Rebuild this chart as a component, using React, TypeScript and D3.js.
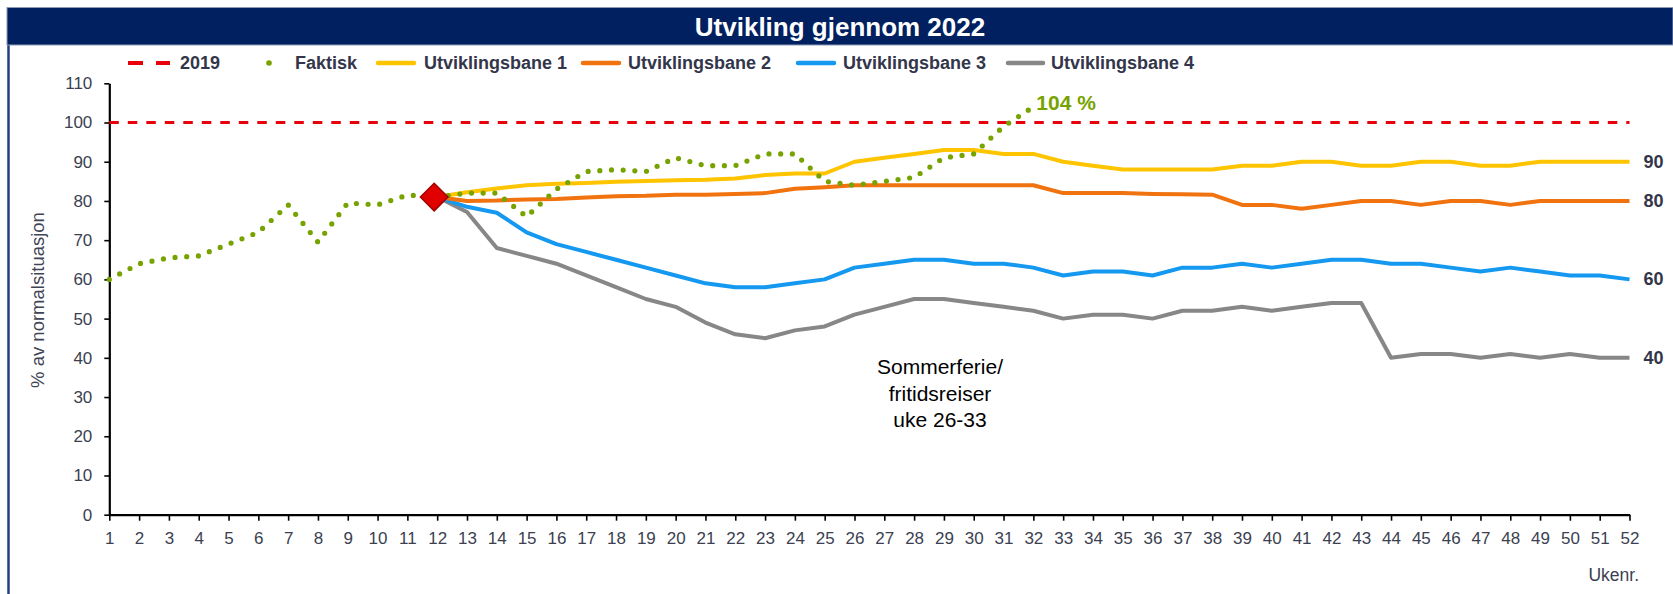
import React, { useEffect, useRef } from 'react';
import * as d3 from 'd3';

// Ukenummer 1-52
const weeks = d3.range(1, 53);
const yTicks = [0, 10, 20, 30, 40, 50, 60, 70, 80, 90, 100, 110];

// 2019 = 100 % (referanse)
const level2019 = 100;

// Faktisk, uke 1-32
const faktisk = [
  60, 64, 65.5, 66, 69, 72, 79, 69.5, 79.5, 79, 81.5, 81, 82, 82, 76, 83,
  87.5, 88, 87.5, 91, 89, 89, 92, 92, 85, 84, 85, 86, 91, 92, 99, 104,
];

// Utviklingsbaner, uke 12-52
const scenarioStart = 12;
const bane1 = [
  81, 82.2, 83.2, 84, 84.4, 84.6, 84.9, 85.1, 85.3, 85.4, 85.7, 86.6, 87, 87,
  90, 91, 92, 93, 93, 92, 92, 90, 89, 88, 88, 88, 88, 89, 89, 90, 90, 89, 89,
  90, 90, 89, 89, 90, 90, 90, 90,
];
const bane2 = [
  81, 80, 80.1, 80.4, 80.5, 80.9, 81.2, 81.3, 81.6, 81.6, 81.8, 82, 83.1, 83.5,
  84, 84, 84, 84, 84, 84, 84, 82, 82, 82, 81.8, 81.7, 81.6, 79, 79, 78, 79, 80,
  80, 79, 80, 80, 79, 80, 80, 80, 80,
];
const bane3 = [
  81, 78.5, 77, 72, 69, 67, 65, 63, 61, 59, 58, 58, 59, 60, 63, 64, 65, 65, 64,
  64, 63, 61, 62, 62, 61, 63, 63, 64, 63, 64, 65, 65, 64, 64, 63, 62, 63, 62,
  61, 61, 60,
];
const bane4 = [
  81, 77.2, 68, 66, 64, 61, 58, 55, 53, 49, 46, 45, 47, 48, 51, 53, 55, 55, 54,
  53, 52, 50, 51, 51, 50, 52, 52, 53, 52, 53, 54, 54, 40, 41, 41, 40, 41, 40,
  41, 40, 40,
];

const seriesNames = ['Utviklingsbane 1', 'Utviklingsbane 2', 'Utviklingsbane 3', 'Utviklingsbane 4'];
const seriesColors = ['#ffc400', '#f0730f', '#1598f0', '#878787'];
const endLabels = ['90', '80', '60', '40'];

const FONT = '"Liberation Sans", Arial, sans-serif';
const TEXT = '#3b3f51';

const W = 1673;
const H = 594;

export default function App() {
  const xAxisRef = useRef<SVGGElement>(null);
  const yAxisRef = useRef<SVGGElement>(null);

  const x = d3.scaleLinear().domain([1, 52]).range([109.3, 1629.5]);
  const y = d3.scaleLinear().domain([0, 110]).range([514.7, 83.3]);

  const scenarios = [bane4, bane3, bane2, bane1].map((vals, k) => ({
    vals,
    color: seriesColors[3 - k],
  }));

  const line = d3
    .line<[number, number]>()
    .x((d) => x(d[0]))
    .y((d) => y(d[1]));

  useEffect(() => {
    const gx = d3.select(xAxisRef.current);
    gx.selectAll('*').remove();
    gx.call(
      d3.axisBottom(x).tickValues(weeks).tickFormat(d3.format('d')).tickSize(6).tickSizeOuter(0).tickPadding(11)
    );
    gx.select('.domain').attr('stroke', '#000').attr('stroke-width', 2.2);
    gx.selectAll('.tick line').attr('stroke', '#000').attr('stroke-width', 1.6);
    gx.selectAll('.tick text')
      .attr('font-size', 17)
      .attr('font-family', FONT)
      .attr('fill', TEXT);

    const gy = d3.select(yAxisRef.current);
    gy.selectAll('*').remove();
    gy.call(d3.axisLeft(y).tickValues(yTicks).tickSize(5).tickSizeOuter(0).tickPadding(12));
    gy.select('.domain').attr('stroke', '#000').attr('stroke-width', 2.2);
    gy.selectAll('.tick line').attr('stroke', '#000').attr('stroke-width', 1.6);
    gy.selectAll('.tick text')
      .attr('font-size', 17)
      .attr('font-family', FONT)
      .attr('fill', TEXT);
  }, []);

  // legend layout
  const legendY = 63;
  const legendItems = [
    { label: '2019', kind: 'dash', color: '#e8000b', x0: 128, x1: 170, tx: 180 },
    { label: 'Faktisk', kind: 'dot', color: '#77a300', x0: 269, x1: 269, tx: 295 },
    ...seriesNames.map((name, i) => ({
      label: name,
      kind: 'line',
      color: seriesColors[i],
      x0: [378, 583, 798, 1008][i],
      x1: [414, 619, 834, 1043][i],
      tx: [424, 628, 843, 1051][i],
    })),
  ];

  const diamond = d3.symbol().type(d3.symbolSquare).size(380)();

  return (
    <svg
      width={W}
      height={H}
      style={{ position: 'absolute', left: 0, top: 0, background: '#fff' }}
      fontFamily={FONT}
    >
      <rect x={0} y={0} width={W} height={H} fill="#fff" />
      {/* frame + title bar */}
      <line x1={8.5} x2={8.5} y1={44} y2={H} stroke="#23417f" strokeWidth={2.5} />
      <rect x={7} y={7.5} width={W - 7} height={37.5} fill="#002060" stroke="#8e9ab8" strokeWidth={1} />
      <text x={840} y={26.5} fill="#fff" fontSize={26} fontWeight="bold" textAnchor="middle" dominantBaseline="central">
        Utvikling gjennom 2022
      </text>

      {/* legend */}
      {legendItems.map((it) => (
        <g key={it.label}>
          {it.kind === 'dash' && (
            <line x1={it.x0} x2={it.x1} y1={legendY} y2={legendY} stroke={it.color} strokeWidth={4} strokeDasharray="15 13" />
          )}
          {it.kind === 'dot' && <circle cx={it.x0} cy={legendY} r={2.8} fill={it.color} />}
          {it.kind === 'line' && (
            <line x1={it.x0} x2={it.x1} y1={legendY} y2={legendY} stroke={it.color} strokeWidth={4.5} strokeLinecap="round" />
          )}
          <text x={it.tx} y={legendY} fontSize={18} fontWeight="bold" fill="#33364a" dominantBaseline="central">
            {it.label}
          </text>
        </g>
      ))}

      {/* axes */}
      <g ref={yAxisRef} transform={`translate(${x(1)},0)`} />
      <g ref={xAxisRef} transform={`translate(0,${y(0)})`} />

      <text
        transform={`translate(37,300) rotate(-90)`}
        fontSize={18.5}
        fill="#404455"
        textAnchor="middle"
        dominantBaseline="central"
      >
        % av normalsituasjon
      </text>
      <text x={1639} y={575} fontSize={17.5} fill={TEXT} textAnchor="end" dominantBaseline="central">
        Ukenr.
      </text>

      {/* 2019 reference */}
      <path
        d={line(weeks.map((w) => [w, level2019]))!}
        fill="none"
        stroke="#e8000b"
        strokeWidth={3}
        strokeDasharray="9.5 9"
      />

      {/* scenarios */}
      {scenarios.map((s, k) => (
        <path
          key={k}
          d={line(s.vals.map((v, i) => [scenarioStart + i, v]))!}
          fill="none"
          stroke={s.color}
          strokeWidth={4}
          strokeLinejoin="round"
        />
      ))}

      {/* faktisk */}
      <path
        d={line(faktisk.map((v, i) => [i + 1, v]))!}
        fill="none"
        stroke="#77a300"
        strokeWidth={5.2}
        strokeLinecap="round"
        strokeDasharray="0 11.7"
      />

      {/* start point */}
      <path
        d={diamond!}
        transform={`translate(${x(scenarioStart) - 3},${y(faktisk[scenarioStart - 1])}) rotate(45)`}
        fill="#e00000"
        stroke="#a00000"
        strokeWidth={1.5}
      />

      {/* labels */}
      <text
        x={x(faktisk.length) + 3}
        y={y(faktisk[faktisk.length - 1]) - 4}
        fontSize={21}
        fontWeight="bold"
        fill="#77a300"
        dominantBaseline="central"
      >
        104 %
      </text>
      {[bane1, bane2, bane3, bane4].map((vals, i) => (
        <text
          key={i}
          x={x(52) + 14}
          y={y(vals[vals.length - 1])}
          fontSize={18}
          fontWeight="bold"
          fill="#33364a"
          dominantBaseline="central"
        >
          {endLabels[i]}
        </text>
      ))}

      <text x={940} fontSize={21} fill="#000" textAnchor="middle">
        <tspan x={940} y={374}>Sommerferie/</tspan>
        <tspan x={940} y={400.5}>fritidsreiser</tspan>
        <tspan x={940} y={427}>uke 26-33</tspan>
      </text>
    </svg>
  );
}
